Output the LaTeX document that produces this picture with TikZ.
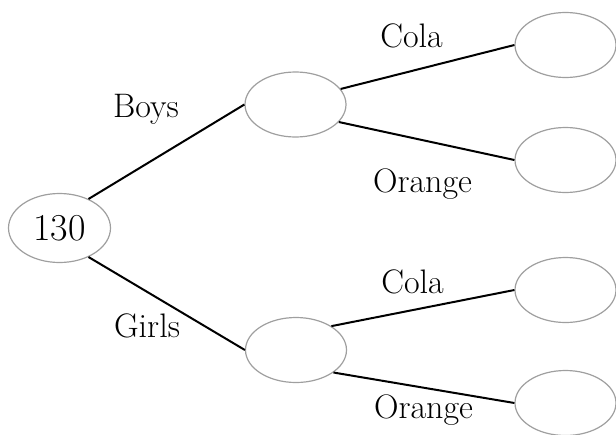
\documentclass[tikz,border=0pt]{standalone}
\usepackage{tikz}
\usetikzlibrary{positioning,shapes}

\tikzset{
  blank/.style={draw=gray!75, line width=0.6pt, ellipse, minimum width=50.5pt, minimum height=32.5pt, inner sep=0pt},
  branch/.style={line width=1pt},
  lbl/.style={font=\fontsize{17}{20}\selectfont, inner sep=0pt, anchor=base}
}

\begin{document}
\begin{tikzpicture}[x=0.5pt, y=-0.5pt]
  \useasboundingbox (0,0) rectangle (616,434);
  \node[blank, minimum width=51pt, minimum height=34.5pt, font=\fontsize{19}{22}\selectfont] (T) at (59.5,228) {130};
  \node[blank] (B) at (295.5,104.5) {};
  \node[blank] (G) at (296,350) {};
  \node[blank] (BC) at (565.5,45) {};
  \node[blank] (BO) at (565.5,160) {};
  \node[blank] (GC) at (565.5,290) {};
  \node[blank] (GO) at (565.5,403) {};

  \node[lbl] (boys) at (146,117) {Boys};
  \node[lbl] (girls) at (147,337) {Girls};
  \node[lbl] (bcola) at (411.5,47) {Cola};
  \node[lbl] (borange) at (422.5,192) {Orange};
  \node[lbl] (gcola) at (412.5,293) {Cola};
  \node[lbl] (gorange) at (423.5,418) {Orange};

  \draw[branch] (T.45) -- (B.west);
  \draw[branch] (T.-45) -- (G.west);
  \draw[branch] (B.19) -- (BC.west);
  \draw[branch] (B.-22) -- (BO.west);
  \draw[branch] (G.34) -- (GC.west);
  \draw[branch] (G.-31) -- (GO.west);
\end{tikzpicture}
\end{document}
